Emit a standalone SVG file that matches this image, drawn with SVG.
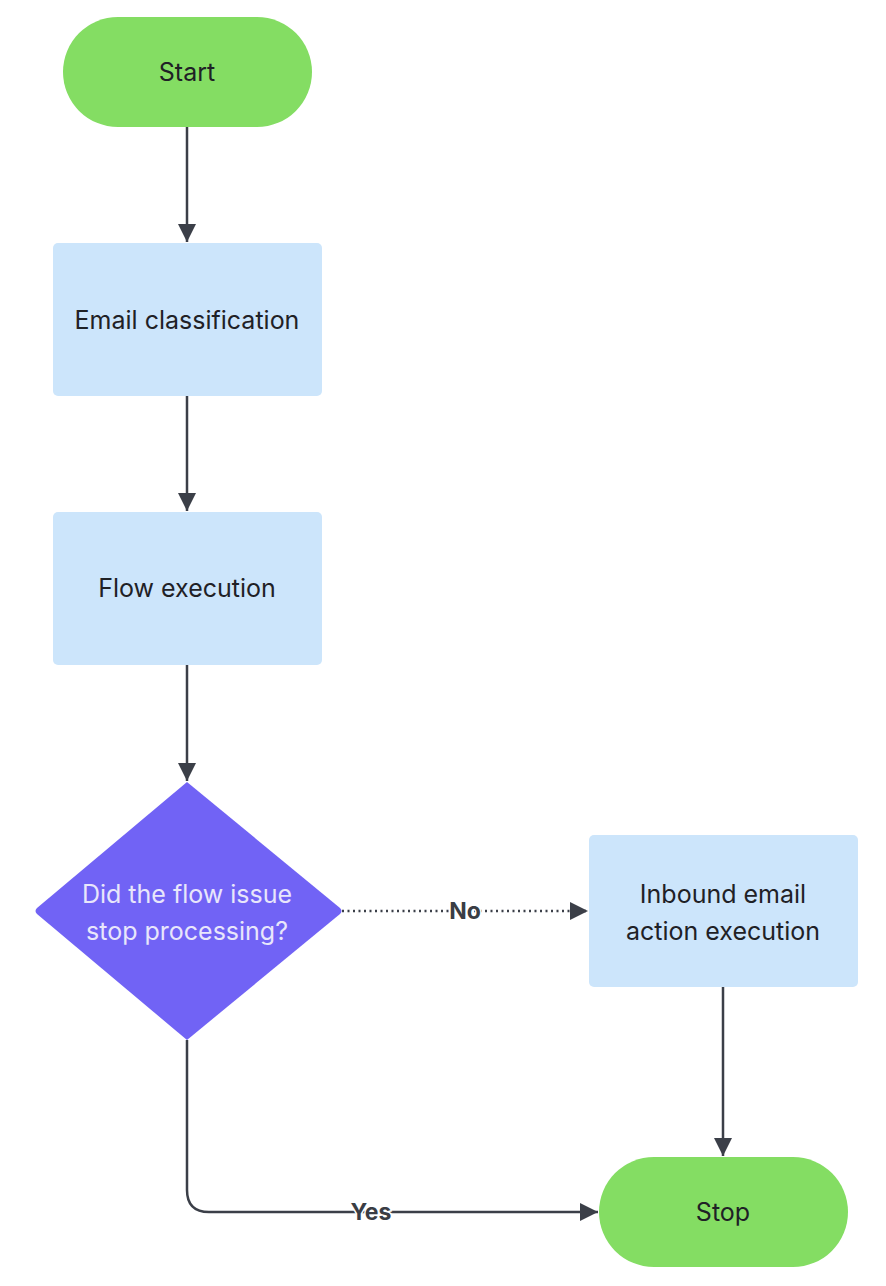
<svg xmlns="http://www.w3.org/2000/svg" width="886" height="1286" viewBox="0 0 886 1286">
<style>
.t{font-family:Inter,"Noto Sans","Liberation Sans",sans-serif;font-size:25px;fill:#1f2126;text-anchor:middle;dominant-baseline:central}
.w{fill:#e8e6fb}
.lbl{font-family:Inter,"Noto Sans","Liberation Sans",sans-serif;font-size:23px;font-weight:bold;fill:#3a3d44;text-anchor:middle;dominant-baseline:central;stroke:#fff;stroke-width:3px;paint-order:stroke}
.term{fill:#84dd63}
.proc{fill:#cce5fb}
.e{fill:none;stroke:#3b3f48;stroke-width:2.5}
.d{stroke-dasharray:2 3.5}
</style>
<defs>
<marker id="a" viewBox="0 0 18 18" refX="18" refY="9" markerWidth="18" markerHeight="18" markerUnits="userSpaceOnUse" orient="auto">
<path d="M0,0L18,9L0,18z" fill="#3b3f48"/>
</marker>
</defs>
<g id="connectors">
<path class="e" d="M187,127V242" marker-end="url(#a)"/>
<path class="e" d="M187,396V511" marker-end="url(#a)"/>
<path class="e" d="M187,665V781" marker-end="url(#a)"/>
<path class="e d" d="M342,911H588" marker-end="url(#a)"/>
<path class="e" d="M723,987V1156" marker-end="url(#a)"/>
<path class="e" d="M187,1040V1190Q187,1212 209,1212H598" marker-end="url(#a)"/>
<text class="lbl" x="465" y="911">No</text>
<text class="lbl" x="371" y="1212">Yes</text>
</g>
<g id="start">
<rect class="term" x="63" y="17" width="249" height="110" rx="55"/>
<text class="t" x="187" y="72">Start</text>
</g>
<g id="email-classification">
<rect class="proc" x="53" y="243" width="269" height="153" rx="5"/>
<text class="t" x="187" y="320">Email classification</text>
</g>
<g id="flow-execution">
<rect class="proc" x="53" y="512" width="269" height="153" rx="5"/>
<text class="t" x="187" y="588">Flow execution</text>
</g>
<g id="decision">
<path d="M187,782L340,908Q343,911 340,914L187,1040L37,914Q34,911 37,908Z" fill="#7163f5"/>
<text class="t w" x="187" y="894">Did the flow issue</text>
<text class="t w" x="187" y="931">stop processing?</text>
</g>
<g id="inbound">
<rect class="proc" x="589" y="835" width="269" height="152" rx="5"/>
<text class="t" x="723" y="894">Inbound email</text>
<text class="t" x="723" y="931">action execution</text>
</g>
<g id="stop">
<rect class="term" x="599" y="1157" width="249" height="110" rx="55"/>
<text class="t" x="723" y="1212">Stop</text>
</g>
</svg>
